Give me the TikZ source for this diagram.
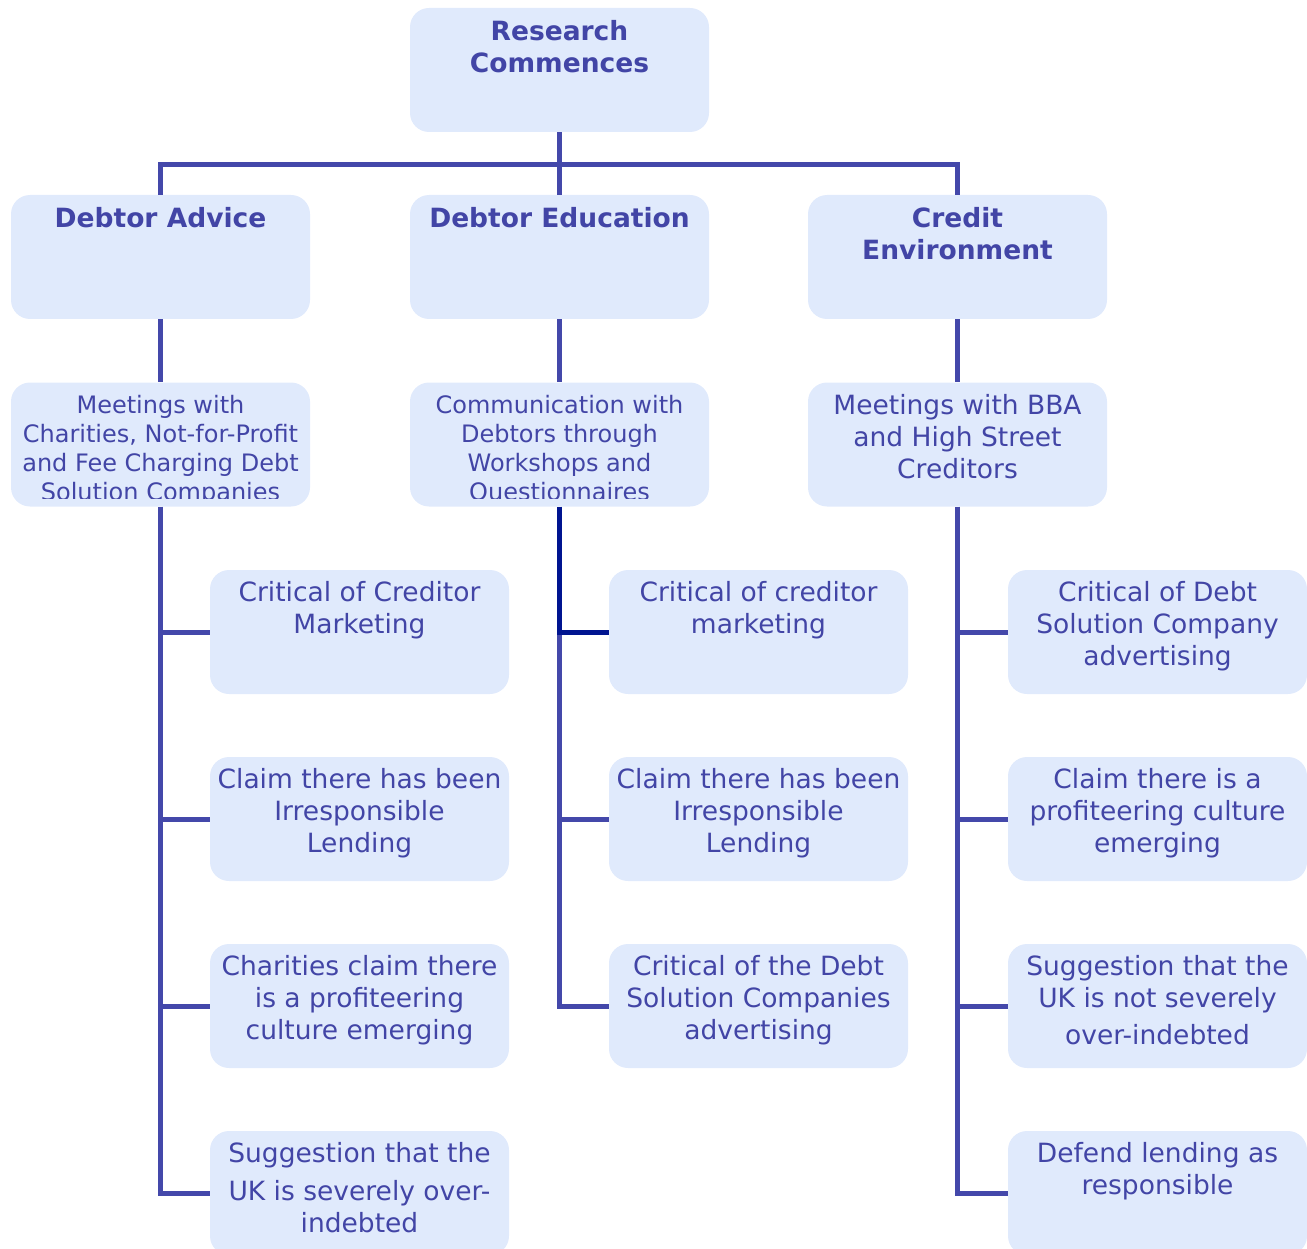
\documentclass[tikz,border=0pt]{standalone}
\usepackage{fontspec}
\setmainfont{DejaVu Sans}
\definecolor{boxfill}{RGB}{224,234,252}
\definecolor{tcol}{RGB}{66,69,166}
\definecolor{lcol}{RGB}{68,72,170}
\definecolor{dcol}{RGB}{0,20,144}
\begin{document}
\begin{tikzpicture}[x=1pt,y=-1pt,
  box/.style={fill=boxfill, draw=none, rounded corners=19pt, minimum width=299pt, minimum height=124pt, inner sep=0pt},
  txt/.style={text=tcol, align=center, inner sep=0pt, anchor=north, font=\fontsize{26.5}{32}\selectfont},
  btxt/.style={txt, font=\fontsize{26.5}{32}\selectfont\bfseries},
  stxt/.style={txt, font=\fontsize{24}{29}\selectfont},
  conn/.style={draw=lcol, line width=5pt},
  dconn/.style={draw=dcol, line width=5pt}]
\useasboundingbox (0,0) rectangle (1307,1249);

% boxes
\node[box] (top) at (559.5,70) {};
\node[box] (a1) at (160.5,257) {};
\node[box] (b1) at (559.5,257) {};
\node[box] (c1) at (957.5,257) {};
\node[box] (a2) at (160.5,444.5) {};
\node[box] (b2) at (559.5,444.5) {};
\node[box] (c2) at (957.5,444.5) {};
\node[box] (la1) at (359.5,632) {};
\node[box] (la2) at (359.5,819) {};
\node[box] (la3) at (359.5,1006) {};
\node[box] (la4) at (359.5,1193) {};
\node[box] (lb1) at (758.5,632) {};
\node[box] (lb2) at (758.5,819) {};
\node[box] (lb3) at (758.5,1006) {};
\node[box] (lc1) at (1157.5,632) {};
\node[box] (lc2) at (1157.5,819) {};
\node[box] (lc3) at (1157.5,1006) {};
\node[box] (lc4) at (1157.5,1193) {};

% texts
\node[btxt] (top-t) at ([yshift=-12pt]top.north) {Research\\Commences};
\node[btxt] (a1-t) at ([yshift=-12pt]a1.north) {Debtor Advice};
\node[btxt] (b1-t) at ([yshift=-12pt]b1.north) {Debtor Education};
\node[btxt] (c1-t) at ([yshift=-12pt]c1.north) {Credit\\Environment};
\begin{scope}
  \clip ([yshift=8pt]a2.south west) rectangle (a2.north east);
  \node[stxt] (a2-t) at ([yshift=-13pt]a2.north) {Meetings with\\Charities, Not-for-Profit\\and Fee Charging Debt\\Solution Companies};
\end{scope}
\begin{scope}
  \clip ([yshift=8pt]b2.south west) rectangle (b2.north east);
  \node[stxt] (b2-t) at ([yshift=-13pt]b2.north) {Communication with\\Debtors through\\Workshops and\\Questionnaires};
\end{scope}
\node[txt] (c2-t) at ([yshift=-12pt]c2.north) {Meetings with BBA\\and High Street\\Creditors};
\node[txt] (la1-t) at ([yshift=-11pt]la1.north) {Critical of Creditor\\Marketing};
\node[txt] (la2-t) at ([yshift=-11pt]la2.north) {Claim there has been\\Irresponsible\\Lending};
\node[txt] (la3-t) at ([yshift=-11pt]la3.north) {Charities claim there\\is a profiteering\\culture emerging};
\node[txt] (la4-t) at ([yshift=-11pt]la4.north) {Suggestion that the\\[6pt]UK is severely over-\\indebted};
\node[txt] (lb1-t) at ([yshift=-11pt]lb1.north) {Critical of creditor\\marketing};
\node[txt] (lb2-t) at ([yshift=-11pt]lb2.north) {Claim there has been\\Irresponsible\\Lending};
\node[txt] (lb3-t) at ([yshift=-11pt]lb3.north) {Critical of the Debt\\Solution Companies\\advertising};
\node[txt] (lc1-t) at ([yshift=-11pt]lc1.north) {Critical of Debt\\Solution Company\\advertising};
\node[txt] (lc2-t) at ([yshift=-11pt]lc2.north) {Claim there is a\\profiteering culture\\emerging};
\node[txt] (lc3-t) at ([yshift=-11pt]lc3.north) {Suggestion that the\\UK is not severely\\[5pt]over-indebted};
\node[txt] (lc4-t) at ([yshift=-11pt]lc4.north) {Defend lending as\\responsible};

% connectors
\coordinate (bar) at (559,165);
\draw[conn] (top.south) -- (b1.north);
\draw[conn] (a1.north) -- (a1.north |- bar) -- (c1.north |- bar) -- (c1.north);

\draw[conn] (a1.south) -- (a2.north);
\draw[conn] (b1.south) -- (b2.north);
\draw[conn] (c1.south) -- (c2.north);

\draw[conn] (a2.south) -- (a2.south |- la4.west) -- (la4.west);
\draw[conn] (a2.south |- la1.west) -- (la1.west);
\draw[conn] (a2.south |- la2.west) -- (la2.west);
\draw[conn] (a2.south |- la3.west) -- (la3.west);

\draw[conn] (b2.south |- lb1.west) -- (b2.south |- lb3.west) -- (lb3.west);
\draw[conn] (b2.south |- lb2.west) -- (lb2.west);
\draw[dconn] (b2.south) -- (b2.south |- lb1.west) -- (lb1.west);

\draw[conn] (c2.south) -- (c2.south |- lc4.west) -- (lc4.west);
\draw[conn] (c2.south |- lc1.west) -- (lc1.west);
\draw[conn] (c2.south |- lc2.west) -- (lc2.west);
\draw[conn] (c2.south |- lc3.west) -- (lc3.west);
\end{tikzpicture}
\end{document}
